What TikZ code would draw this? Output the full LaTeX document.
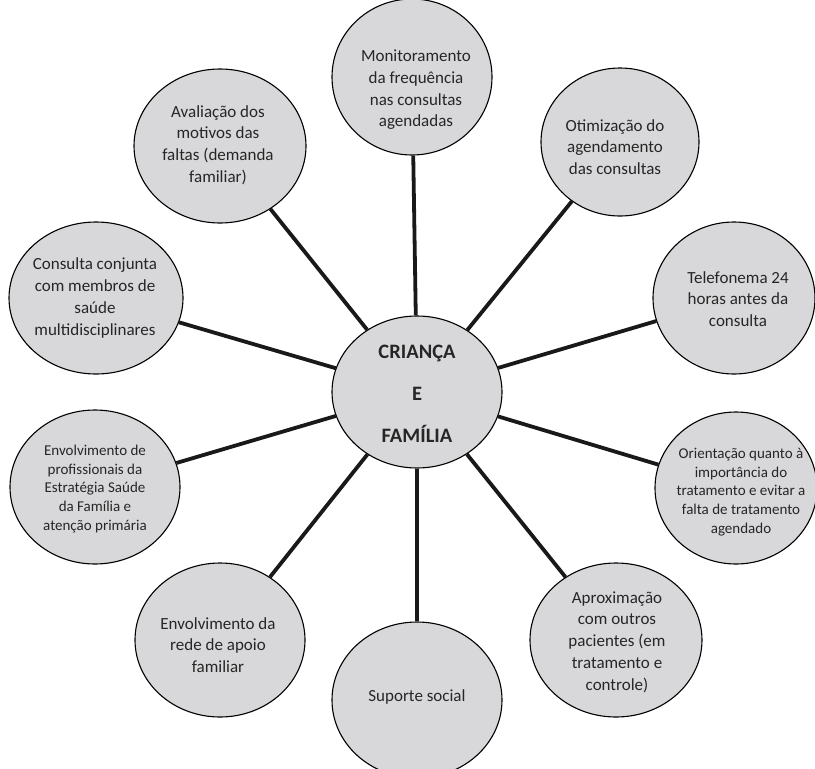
\documentclass[tikz,border=0pt]{standalone}
\usepackage{fontspec}
\setmainfont{Carlito}
\usetikzlibrary{shapes.geometric,backgrounds}
\definecolor{blobfill}{RGB}{216,216,218}
\tikzset{
  blob/.style={ellipse, draw=black, line width=1.1pt, fill=blobfill, inner sep=0pt},
  txt/.style={align=center, font=\fontsize{17}{21.7}\selectfont, inner sep=0pt, text=black!85},
  smalltxt/.style={align=center, font=\fontsize{15}{18.6}\selectfont, inner sep=0pt, text=black!85},
  centertxt/.style={align=center, font=\bfseries\fontsize{20.5}{42}\selectfont, inner sep=0pt, text=black!85},
  link/.style={line width=3.8pt, draw=black!90},
}
\begin{document}
\begin{tikzpicture}[x=1pt,y=-1pt]
\useasboundingbox (0,0) rectangle (815,769);
\clip (0,0) rectangle (815,769);
% ellipses
\node[blob, minimum width=170, minimum height=152] (c) at (417,392) {};
\node[blob, minimum width=160, minimum height=156] (e1) at (412,77) {};
\node[blob, minimum width=158, minimum height=148] (e2) at (620,142) {};
\node[blob, minimum width=162, minimum height=152] (e3) at (734,298) {};
\node[blob, minimum width=162, minimum height=152] (e4) at (736,488) {};
\node[blob, minimum width=172, minimum height=154] (e5) at (616,640) {};
\node[blob, minimum width=170, minimum height=156] (e6) at (417,700) {};
\node[blob, minimum width=170, minimum height=154] (e7) at (220,640) {};
\node[blob, minimum width=170, minimum height=154] (e8) at (95,487) {};
\node[blob, minimum width=174, minimum height=152] (e9) at (96,298) {};
\node[blob, minimum width=172, minimum height=154] (e10) at (220,146) {};
% connectors
\begin{scope}[on background layer]
\foreach \n in {e1,e2,e3,e4,e5,e6,e7,e8,e9,e10}
  \draw[link] (c) -- (\n);
\end{scope}
% texts
\node[centertxt] (tc) at (417,394) {CRIANÇA\\E\\FAMÍLIA};
\node[txt] (t1) at (416,90) {Monitoramento\\da frequência\\nas consultas\\agendadas};
\node[txt] (t2) at (615,147) {Otimização do\\agendamento\\das consultas};
\node[txt] (t3) at (738,299) {Telefonema 24\\horas antes da\\consulta};
\node[smalltxt] (t4) at (741,492) {Orientação quanto à\\importância do\\tratamento e evitar a\\falta de tratamento\\agendado};
\node[txt] (t5) at (617,642) {Aproximação\\com outros\\pacientes (em\\tratamento e\\controle)};
\node[txt] (t6) at (417,697) {Suporte social};
\node[txt] (t7) at (218,645) {Envolvimento da\\rede de apoio\\familiar};
\node[smalltxt] (t8) at (95,489) {Envolvimento de\\profissionais da\\Estratégia Saúde\\da Família e\\atenção primária};
\node[txt] (t9) at (95,298) {Consulta conjunta\\com membros de\\saúde\\multidisciplinares};
\node[txt] (t10) at (218,145) {Avaliação dos\\motivos das\\faltas (demanda\\familiar)};
\end{tikzpicture}
\end{document}
